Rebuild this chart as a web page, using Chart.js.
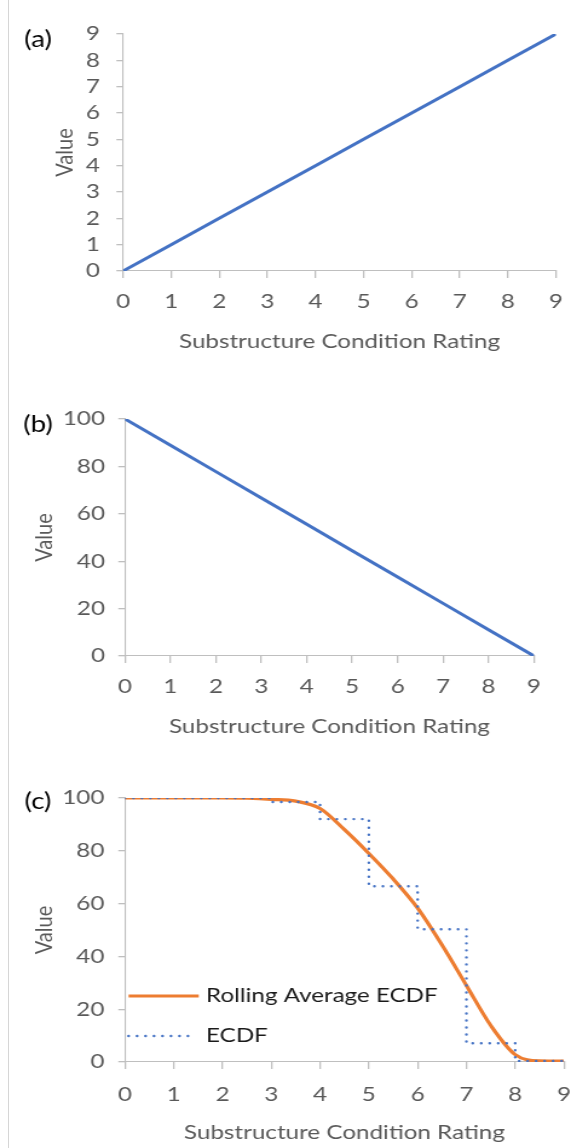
<!DOCTYPE html>
<html>
<head>
<meta charset="utf-8">
<script src="https://cdn.jsdelivr.net/npm/chart.js@4.4.1/dist/chart.umd.min.js"></script>
<style>
    body { margin: 0; background: #ffffff; width: 571px; height: 1148px; position: relative; overflow: hidden; }
    /* los gráficos se dibujan a 472px y se estiran a lo ancho de la página */
    canvas { position: absolute; left: 0; transform: scaleX(1.2097); transform-origin: 0 0; }
    .marco { position: absolute; left: 8px; top: 0; height: 1148px; border-left: 1px solid #d6d6d6; }
</style>
</head>
<body>
<div class="marco"></div>
<canvas id="graficoA" width="472" height="370" style="top:0px"></canvas>
<canvas id="graficoB" width="472" height="385" style="top:370px"></canvas>
<canvas id="graficoC" width="472" height="393" style="top:755px"></canvas>
<script>
// Datos de los tres paneles
var calificaciones = [0, 1, 2, 3, 4, 5, 6, 7, 8, 9];
var valores_a = [0, 1, 2, 3, 4, 5, 6, 7, 8, 9];
var valores_b = [100, 88.9, 77.8, 66.7, 55.6, 44.4, 33.3, 22.2, 11.1, 0];
// ECDF escalonada: valor de cada tramo [k, k+1]
var valores_ecdf = [100, 100, 100, 98.5, 92, 66.6, 50.3, 7.1, 0.4, 0.4];
// Media móvil de la ECDF
var x_media = [0, 0.5, 1, 1.5, 2, 2.5, 3, 3.5, 4, 4.5, 5, 5.5, 6, 6.5, 7, 7.5, 8, 8.5, 9];
var valores_media = [100, 100, 100, 100, 100, 99.9, 99.5, 98.8, 96, 88, 79, 69.3, 58.3, 44.3, 29, 13.8, 2.8, 0.4, 0.3];

var titulo_x = "Substructure Condition Rating";
var titulo_y = "Value";
var nombres_series = ["Rolling Average ECDF", "ECDF"];

var AZUL = "#4472c4";
var NARANJA = "#ed7d31";
var GRIS_EJE = "#bfbfbf";
var GRIS_TEXTO = "#595959";

Chart.defaults.font.family = "Lato";
Chart.defaults.font.size = 20;
Chart.defaults.color = GRIS_TEXTO;

function puntos(xs, ys) {
    return xs.map(function(x, i) { return { x: x, y: ys[i] }; });
}

// Letra del panel, "(a)", "(b)"...
var plugin_letra = {
    id: 'letra_panel',
    afterDraw: function(grafico, args, opciones) {
        var ctx = grafico.ctx;
        ctx.save();
        ctx.font = "23px Lato";
        ctx.fillStyle = "#000000";
        ctx.textAlign = "center";
        ctx.textBaseline = "middle";
        ctx.fillText(opciones.texto, 31.4, grafico.chartArea.top + opciones.dy);
        ctx.restore();
    }
};

// Leyenda dentro del área de trazado (panel c)
var plugin_leyenda = {
    id: 'leyenda_interna',
    afterDraw: function(grafico) {
        var ctx = grafico.ctx;
        var area = grafico.chartArea;
        var filas = [
            { ds: grafico.data.datasets[1], y: area.bottom - 66, largo: 58 },
            { ds: grafico.data.datasets[0], y: area.bottom - 26, largo: 53 }
        ];
        ctx.save();
        filas.forEach(function(f) {
            ctx.beginPath();
            ctx.strokeStyle = f.ds.borderColor;
            ctx.lineWidth = f.ds.borderWidth;
            ctx.lineCap = f.ds.borderCapStyle || 'butt';
            ctx.setLineDash(f.ds.borderDash || []);
            ctx.moveTo(area.left + 3, f.y);
            ctx.lineTo(area.left + 3 + f.largo, f.y);
            ctx.stroke();
            ctx.setLineDash([]);
            ctx.font = "20px Lato";
            ctx.fillStyle = "#1a1a1a";
            ctx.textAlign = "left";
            ctx.textBaseline = "middle";
            ctx.fillText(f.ds.label, area.left + 67, f.y);
        });
        ctx.restore();
    }
};

// Ejes con el estilo de Excel: sin rejilla, marcas hacia fuera
function crear_escalas(cfg) {
    return {
        x: {
            type: 'linear',
            min: 0,
            max: 9,
            afterFit: function(escala) {
                escala.height = cfg.alto_x;
                escala.paddingLeft = 0;
                escala.paddingRight = 0;
            },
            grid: { drawOnChartArea: false, drawTicks: true, tickLength: 7, color: GRIS_EJE, lineWidth: 1.3 },
            border: { color: GRIS_EJE, width: 1.1 },
            ticks: { stepSize: 1, autoSkip: false, padding: cfg.pad_tx, maxRotation: 0, color: GRIS_TEXTO },
            title: { display: true, text: titulo_x, color: GRIS_TEXTO, padding: { top: 0, bottom: cfg.pad_titulo_x } }
        },
        y: {
            type: 'linear',
            min: 0,
            max: cfg.max_y,
            afterFit: function(escala) {
                escala.width = cfg.ancho_y;
                escala.paddingTop = 0;
                escala.paddingBottom = 0;
            },
            grid: { drawOnChartArea: false, drawTicks: true, tickLength: 5.5, color: GRIS_EJE, lineWidth: 1.3 },
            border: { color: GRIS_EJE, width: 1.1 },
            ticks: { stepSize: cfg.paso_y, autoSkip: false, padding: cfg.pad_ty, color: GRIS_TEXTO },
            title: { display: true, text: titulo_y, color: GRIS_TEXTO, padding: { top: cfg.pad_titulo_y, bottom: 0 } }
        }
    };
}

function opciones_base(cfg) {
    return {
        responsive: false,
        animation: false,
        events: [],
        layout: { padding: { top: cfg.arriba, right: cfg.derecha, left: 0, bottom: 0 } },
        elements: { point: { radius: 0 } },
        plugins: {
            legend: { display: false },
            tooltip: { enabled: false },
            letra_panel: { texto: cfg.letra, dy: cfg.dy_letra }
        },
        scales: crear_escalas(cfg)
    };
}

// Panel (a)
new Chart(document.getElementById('graficoA'), {
    type: 'line',
    data: {
        datasets: [{
            data: puntos(calificaciones, valores_a),
            borderColor: AZUL,
            borderWidth: 3,
            tension: 0
        }]
    },
    options: opciones_base({
        arriba: 34, derecha: 12.4, ancho_y: 101.7, alto_x: 99, max_y: 9, paso_y: 1,
        pad_tx: 12, pad_ty: 13.5, pad_titulo_x: 16, pad_titulo_y: 41.7, letra: "(a)", dy_letra: 6
    }),
    plugins: [plugin_letra]
});

// Panel (b)
new Chart(document.getElementById('graficoB'), {
    type: 'line',
    data: {
        datasets: [{
            data: puntos(calificaciones, valores_b),
            borderColor: AZUL,
            borderWidth: 3,
            tension: 0
        }]
    },
    options: opciones_base({
        arriba: 49, derecha: 30.6, ancho_y: 103.3, alto_x: 99, max_y: 100, paso_y: 20,
        pad_tx: 12, pad_ty: 11, pad_titulo_x: 16, pad_titulo_y: 24.4, letra: "(b)", dy_letra: 6
    }),
    plugins: [plugin_letra]
});

// Panel (c): ECDF punteada encima de la media móvil
new Chart(document.getElementById('graficoC'), {
    type: 'line',
    data: {
        datasets: [{
            label: nombres_series[1],
            data: puntos(calificaciones, valores_ecdf),
            borderColor: AZUL,
            borderWidth: 2.4,
            borderDash: [0.01, 7],
            borderCapStyle: 'round',
            stepped: 'before',
            order: 0
        }, {
            label: nombres_series[0],
            data: puntos(x_media, valores_media),
            borderColor: NARANJA,
            borderWidth: 3.2,
            cubicInterpolationMode: 'monotone',
            order: 1
        }]
    },
    options: opciones_base({
        arriba: 43, derecha: 5.8, ancho_y: 103.3, alto_x: 86, max_y: 100, paso_y: 20,
        pad_tx: 14, pad_ty: 11.5, pad_titulo_x: 3, pad_titulo_y: 24.4, letra: "(c)", dy_letra: 4
    }),
    plugins: [plugin_letra, plugin_leyenda]
});
</script>
</body>
</html>
